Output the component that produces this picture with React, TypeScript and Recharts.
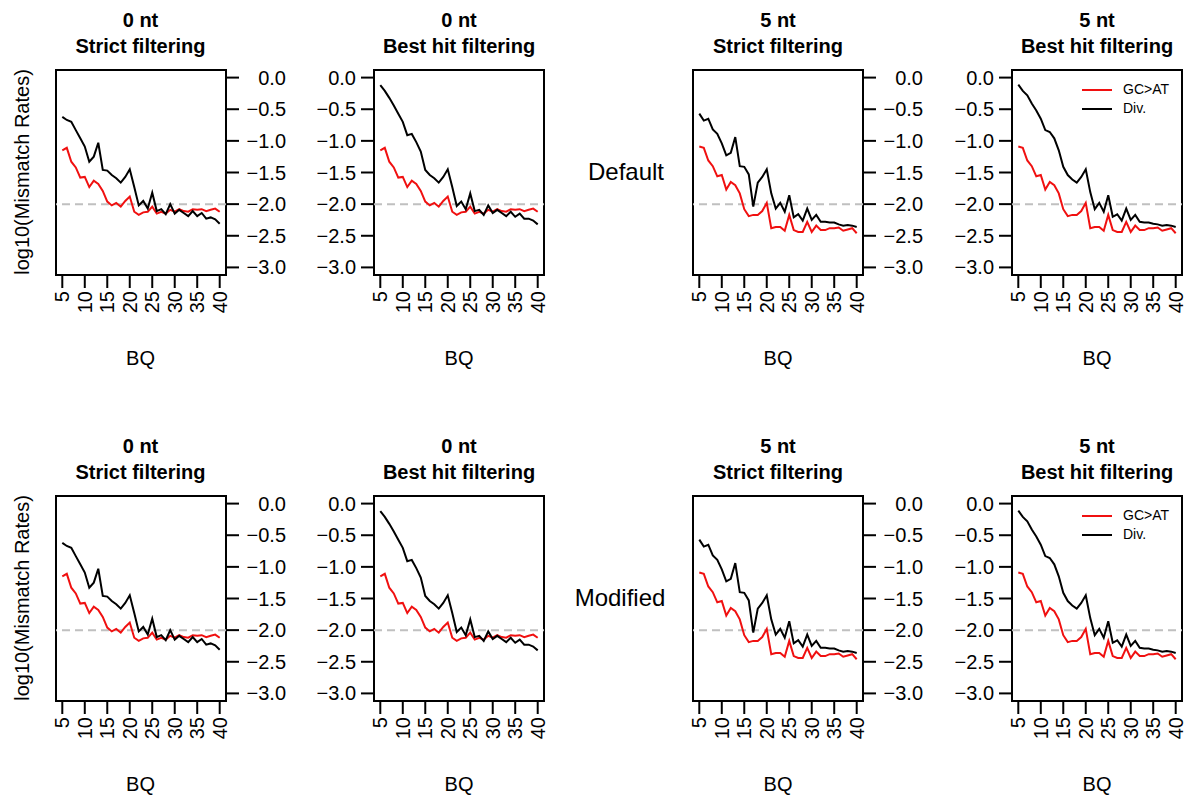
import React from 'react';
import { LineChart, Line, XAxis, YAxis, ReferenceLine, ReferenceArea } from 'recharts';

// base quality on the x axis
const BQ = [
  5, 6, 7, 8, 9, 10, 11, 12, 13, 14, 15, 16, 17, 18, 19, 20, 21, 22,
  23, 24, 25, 26, 27, 28, 29, 30, 31, 32, 33, 34, 35, 36, 37, 38, 39, 40,
];
const X_TICKS = [5, 10, 15, 20, 25, 30, 35, 40];
const Y_TICKS = [0, -0.5, -1, -1.5, -2, -2.5, -3];

// log10 mismatch rates
const GC_AT_0NT = [
  -1.15, -1.11, -1.33, -1.42, -1.58, -1.57, -1.73, -1.63, -1.68, -1.79, -1.96, -2.02,
  -1.98, -2.04, -1.95, -1.88, -2.12, -2.17, -2.13, -2.12, -2.04, -2.15, -2.12, -2.15,
  -2.09, -2.12, -2.08, -2.11, -2.12, -2.08, -2.09, -2.08, -2.11, -2.09, -2.07, -2.12,
];
const DIV_0NT_STRICT = [
  -0.62, -0.67, -0.7, -0.83, -0.96, -1.09, -1.33, -1.25, -1.03, -1.46, -1.47, -1.54,
  -1.59, -1.66, -1.57, -1.45, -1.73, -2.02, -1.95, -2.07, -1.82, -2.11, -2.08, -2.16,
  -2.0, -2.15, -2.09, -2.14, -2.19, -2.11, -2.19, -2.14, -2.23, -2.21, -2.24, -2.31,
];
const DIV_0NT_BEST = [
  -0.12, -0.21, -0.32, -0.44, -0.57, -0.7, -0.91, -0.89, -1.02, -1.17, -1.46, -1.54,
  -1.59, -1.66, -1.57, -1.45, -1.73, -2.03, -1.96, -2.08, -1.83, -2.11, -2.09, -2.17,
  -2.02, -2.14, -2.09, -2.14, -2.19, -2.12, -2.2, -2.15, -2.23, -2.23, -2.26, -2.32,
];
const GC_AT_5NT = [
  -1.09, -1.11, -1.31, -1.4, -1.56, -1.54, -1.77, -1.65, -1.7, -1.83, -2.08, -2.19,
  -2.17, -2.17, -2.11, -1.98, -2.38, -2.36, -2.36, -2.42, -2.17, -2.41, -2.44, -2.44,
  -2.28, -2.44, -2.34, -2.41, -2.41, -2.38, -2.38, -2.37, -2.42, -2.4, -2.38, -2.46,
];
const DIV_5NT_STRICT = [
  -0.57, -0.68, -0.65, -0.82, -0.89, -1.04, -1.23, -1.19, -0.94, -1.4, -1.41, -1.53,
  -2.04, -1.66, -1.57, -1.45, -1.83, -2.07, -1.98, -2.12, -1.86, -2.21, -2.16, -2.26,
  -2.07, -2.25, -2.17, -2.28, -2.28, -2.29, -2.29, -2.32, -2.34, -2.33, -2.34, -2.36,
];
const DIV_5NT_BEST = [
  -0.11, -0.21, -0.28, -0.41, -0.52, -0.65, -0.83, -0.86, -0.96, -1.15, -1.41, -1.54,
  -1.61, -1.66, -1.57, -1.45, -1.81, -2.08, -1.98, -2.12, -1.86, -2.2, -2.16, -2.26,
  -2.07, -2.25, -2.17, -2.28, -2.29, -2.29, -2.31, -2.32, -2.34, -2.33, -2.34, -2.36,
];

const SERIES = [
  { key: 'gc', name: 'GC>AT', color: '#f01010' },
  { key: 'div', name: 'Div.', color: '#000000' },
];

const FONT = '"Liberation Sans", Arial, Helvetica, sans-serif';
const PLOT_W = 170;
const PLOT_H = 205;
const AXIS_W = 70;
const SIDE_PAD = 12; // room so rotated end labels are not clipped
const TOP_PAD = 10;
const X_AXIS_H = 60;

const fmt = (v: number) => v.toFixed(1).replace('-', '\u2212');

const abs = (x: number, y: number, extra: React.CSSProperties = {}): React.CSSProperties => ({
  position: 'absolute',
  left: x,
  top: y,
  transform: 'translate(-50%, -50%)',
  whiteSpace: 'nowrap',
  ...extra,
});

type PanelProps = {
  left: number;
  top: number;
  side: 'left' | 'right';
  nt: string;
  filter: string;
  gc: number[];
  div: number[];
  legend?: boolean;
};

function Panel({ left, top, side, nt, filter, gc, div, legend }: PanelProps) {
  const data = BQ.map((bq, i) => ({ bq, gc: gc[i], div: div[i] }));
  const chartLeft = side === 'left' ? left - AXIS_W : left - SIDE_PAD;
  const cx = left + PLOT_W / 2;

  const yTick = (props: any) => {
    const { y, payload } = props;
    const x = side === 'right' ? SIDE_PAD + PLOT_W + 60 : AXIS_W - 18;
    return (
      <text x={x} y={y} dy="0.35em" textAnchor="end" fontSize={20} fontFamily={FONT} fill="#000">
        {fmt(payload.value)}
      </text>
    );
  };

  const xTick = (props: any) => {
    const { x, payload } = props;
    const y = TOP_PAD + PLOT_H + 16;
    return (
      <text
        x={x}
        y={y}
        dy="0.35em"
        textAnchor="end"
        fontSize={20}
        fontFamily={FONT}
        fill="#000"
        transform={`rotate(-90, ${x}, ${y})`}
      >
        {payload.value}
      </text>
    );
  };

  return (
    <>
      <div style={abs(cx, top - 50, { fontSize: 20, fontWeight: 'bold' })}>{nt}</div>
      <div style={abs(cx, top - 24, { fontSize: 20, fontWeight: 'bold' })}>{filter}</div>
      <div style={{ position: 'absolute', left: chartLeft, top: top - TOP_PAD }}>
        <LineChart
          width={PLOT_W + AXIS_W + SIDE_PAD}
          height={TOP_PAD + PLOT_H + X_AXIS_H}
          data={data}
          margin={{
            top: TOP_PAD,
            right: side === 'left' ? SIDE_PAD : 0,
            bottom: 0,
            left: side === 'right' ? SIDE_PAD : 0,
          }}
        >
          <XAxis
            dataKey="bq"
            type="number"
            domain={[3.6, 41.4]}
            ticks={X_TICKS}
            interval={0}
            allowDataOverflow
            axisLine={false}
            tickLine={{ stroke: '#000', strokeWidth: 2 }}
            tickSize={13}
            height={X_AXIS_H}
            tick={xTick}
          />
          <YAxis
            orientation={side}
            type="number"
            domain={[-3.12, 0.12]}
            ticks={Y_TICKS}
            interval={0}
            allowDataOverflow
            axisLine={false}
            tickLine={{ stroke: '#000', strokeWidth: 2 }}
            tickSize={13}
            width={AXIS_W}
            tick={yTick}
          />
          <ReferenceLine y={-2} stroke="#c0c0c0" strokeWidth={2} strokeDasharray="8 5" />
          {SERIES.map((s) => (
            <Line
              key={s.key}
              dataKey={s.key}
              name={s.name}
              stroke={s.color}
              strokeWidth={2}
              dot={false}
              type="linear"
              isAnimationActive={false}
            />
          ))}
          <ReferenceArea
            x1={3.6}
            x2={41.4}
            y1={-3.12}
            y2={0.12}
            fill="none"
            fillOpacity={0}
            stroke="#000"
            strokeWidth={2}
          />
        </LineChart>
      </div>
      <div style={abs(cx, top + 288, { fontSize: 20 })}>BQ</div>
      {legend && (
        <div style={{ position: 'absolute', left: left + 70, top: top + 10, fontSize: 14, lineHeight: '19.5px' }}>
          {SERIES.map((s) => (
            <div key={s.key} style={{ display: 'flex', alignItems: 'center' }}>
              <svg width={30} height={19.5}>
                <line x1={0} x2={30} y1={10} y2={10} stroke={s.color} strokeWidth={2} />
              </svg>
              <span style={{ marginLeft: 11 }}>{s.name}</span>
            </div>
          ))}
        </div>
      )}
    </>
  );
}

const ROWS = [
  { top: 69.5, label: 'Default', labelX: 626 },
  { top: 495.5, label: 'Modified', labelX: 620 },
];

export default function App() {
  return (
    <div
      style={{
        position: 'absolute',
        left: 0,
        top: 0,
        width: 1200,
        height: 805,
        overflow: 'hidden',
        background: '#fff',
        fontFamily: FONT,
        color: '#000',
      }}
    >
      {ROWS.map((row) => (
        <React.Fragment key={row.label}>
          <div
            style={abs(22, row.top + PLOT_H / 2, {
              fontSize: 20,
              transform: 'translate(-50%, -50%) rotate(-90deg)',
            })}
          >
            log10(Mismatch Rates)
          </div>
          <div style={abs(row.labelX, row.top + PLOT_H / 2, { fontSize: 24 })}>{row.label}</div>
          <Panel left={55.5} top={row.top} side="right" nt="0 nt" filter="Strict filtering" gc={GC_AT_0NT} div={DIV_0NT_STRICT} />
          <Panel left={374} top={row.top} side="left" nt="0 nt" filter="Best hit filtering" gc={GC_AT_0NT} div={DIV_0NT_BEST} />
          <Panel left={693} top={row.top} side="right" nt="5 nt" filter="Strict filtering" gc={GC_AT_5NT} div={DIV_5NT_STRICT} />
          <Panel left={1012} top={row.top} side="left" nt="5 nt" filter="Best hit filtering" gc={GC_AT_5NT} div={DIV_5NT_BEST} legend />
        </React.Fragment>
      ))}
    </div>
  );
}
